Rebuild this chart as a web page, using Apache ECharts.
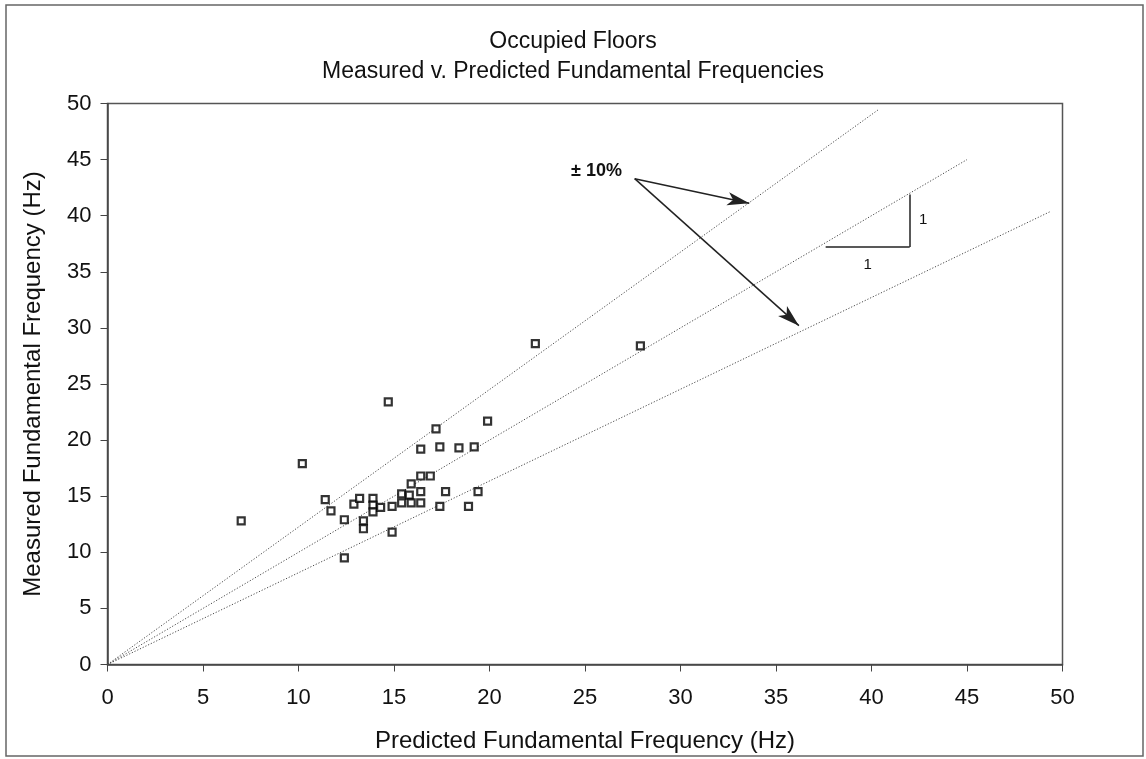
<!DOCTYPE html>
<html>
<head>
<meta charset="utf-8">
<title>Occupied Floors – Measured v. Predicted Fundamental Frequencies</title>
<script src="https://cdn.jsdelivr.net/npm/echarts@6/dist/echarts.min.js"></script>
<style>
  html, body { margin: 0; padding: 0; background: #fff; }
  #chart { width: 1146px; height: 759px; }
</style>
</head>
<body>
<div id="chart"></div>
<script>
// Fundamental frequencies of occupied floors (Hz): predicted vs measured
const predicted = [7.0, 10.2, 11.4, 11.7, 12.4, 12.4, 12.9, 13.2, 13.4, 13.4,
                   13.9, 13.9, 13.9, 14.3, 14.7, 14.9, 14.9, 15.4, 15.4, 15.8,
                   15.9, 15.9, 16.4, 16.4, 16.4, 16.4, 16.9, 17.2, 17.4, 17.4,
                   17.7, 18.4, 18.9, 19.2, 19.4, 19.9, 22.4, 27.9];
const measured  = [12.8, 17.9, 14.7, 13.7, 12.9, 9.5, 14.3, 14.8, 12.8, 12.1,
                   14.8, 14.2, 13.6, 14.0, 23.4, 14.1, 11.8, 15.2, 14.4, 15.1,
                   16.1, 14.4, 19.2, 16.8, 15.4, 14.4, 16.8, 21.0, 14.1, 19.4,
                   15.4, 19.3, 14.1, 19.4, 15.4, 21.7, 28.6, 28.4];

// Axis range and tick step (Hz)
const axisMin = 0;
const axisMax = 50;
const axisStep = 5;

// Reference lines through the origin: upper band, 1:1, lower band
const lineUpper = [[0, 0], [40.4, 49.5]];
const lineEqual = [[0, 0], [45.0, 45.0]];
const lineLower = [[0, 0], [49.4, 40.4]];

// Annotation anchors, in data units
const bandText = '± 10%';
const bandTextAt = [25.6, 44.0];
const arrowFrom = [27.6, 43.3];
const arrowTips = [[33.6, 41.1], [36.2, 30.2]];
const slopeRun = [[37.6, 37.2], [42.0, 37.2]];
const slopeRise = [[42.0, 37.2], [42.0, 41.9]];
const slopeLabels = [['1', [39.8, 35.6]], ['1', [42.7, 39.6]]];

const FONT = '"Liberation Sans", Arial, Helvetica, sans-serif';
const INK = '#111';

const chart = echarts.init(document.getElementById('chart'), null, { renderer: 'canvas' });

function refLine(data) {
  return {
    type: 'line',
    data: data,
    showSymbol: false,
    symbol: 'none',
    silent: true,
    z: 2,
    lineStyle: { color: '#4a4a4a', width: 1, type: [1.2, 1.8] }
  };
}

function axisCommon(name, nameGap) {
  return {
    type: 'value',
    min: axisMin,
    max: axisMax,
    interval: axisStep,
    name: name,
    nameLocation: 'middle',
    nameGap: nameGap,
    nameTextStyle: { fontFamily: FONT, fontSize: 24, color: INK },
    splitLine: { show: false },
    axisLine: { show: true, onZero: false, lineStyle: { color: '#444', width: 1.5 } },
    axisTick: { show: true, inside: false, length: 7, lineStyle: { color: '#444', width: 1 } },
    axisLabel: { fontFamily: FONT, fontSize: 22, color: INK }
  };
}

const xAxis = axisCommon('Predicted Fundamental Frequency (Hz)', 65);
xAxis.axisLabel.margin = 22;
const yAxis = axisCommon('Measured Fundamental Frequency (Hz)', 62);
yAxis.axisLabel.margin = 16;

const annotationLine = { color: '#222', width: 1.5, type: 'solid' };

chart.setOption({
  animation: false,
  backgroundColor: '#fff',
  title: {
    text: 'Occupied Floors\nMeasured v. Predicted Fundamental Frequencies',
    left: 'center',
    top: 22,
    textStyle: { fontFamily: FONT, fontSize: 23, fontWeight: 'normal', color: INK, lineHeight: 30 }
  },
  grid: {
    left: 107.5, right: 83.5, top: 103.5, bottom: 94.5,
    show: true, borderColor: '#555', borderWidth: 1.5, backgroundColor: 'transparent'
  },
  xAxis: xAxis,
  yAxis: yAxis,
  graphic: [{
    type: 'rect',
    shape: { x: 6, y: 5, width: 1137, height: 751 },
    style: { fill: 'none', stroke: '#666', lineWidth: 1.5 },
    silent: true
  }],
  series: [
    refLine(lineUpper),
    refLine(lineEqual),
    refLine(lineLower),
    {
      type: 'scatter',
      name: 'floors',
      data: predicted.map((p, i) => [p, measured[i]]),
      symbol: 'rect',
      symbolSize: 7,
      z: 5,
      itemStyle: { color: '#fff', borderColor: '#000', borderWidth: 2.2 }
    },
    {
      // arrows, slope triangle and their labels
      type: 'scatter',
      data: [],
      silent: true,
      z: 4,
      markLine: {
        silent: true,
        animation: false,
        label: { show: false },
        emphasis: { disabled: true },
        symbol: ['none', 'none'],
        data: [
          ...arrowTips.map(tip => [
            { coord: arrowFrom, symbol: 'none', lineStyle: annotationLine },
            { coord: tip, symbol: 'arrow', symbolSize: [10, 22] }
          ]),
          [{ coord: slopeRun[0], lineStyle: annotationLine }, { coord: slopeRun[1] }],
          [{ coord: slopeRise[0], lineStyle: annotationLine }, { coord: slopeRise[1] }]
        ]
      },
      markPoint: {
        silent: true,
        animation: false,
        symbol: 'circle',
        symbolSize: 1,
        itemStyle: { color: 'rgba(0,0,0,0)' },
        data: [
          {
            coord: bandTextAt,
            label: { show: true, position: 'inside', formatter: bandText,
                     fontFamily: FONT, fontSize: 18, fontWeight: 'bold', color: INK }
          },
          ...slopeLabels.map(([t, at]) => ({
            coord: at,
            label: { show: true, position: 'inside', formatter: t,
                     fontFamily: FONT, fontSize: 15, color: INK }
          }))
        ]
      }
    }
  ]
});
</script>
</body>
</html>
